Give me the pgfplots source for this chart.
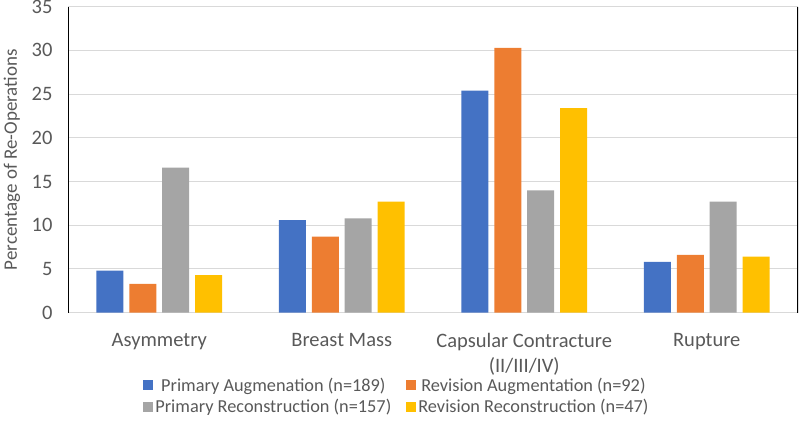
\documentclass[border=0pt]{standalone}
\usepackage{pgfplots}
\pgfplotsset{compat=1.18}
\usepackage{fontspec}
\setmainfont{Carlito}
\definecolor{cblue}{HTML}{4472C4}
\definecolor{corange}{HTML}{ED7D31}
\definecolor{cgray}{HTML}{A5A5A5}
\definecolor{cyellow}{HTML}{FFC000}
\definecolor{ctext}{HTML}{595959}
\definecolor{cgrid}{HTML}{D9D9D9}
\begin{document}
\begin{tikzpicture}[x=1pt,y=1pt]
\useasboundingbox (0,0) rectangle (800,442);
\begin{axis}[
  at={(68pt,129.3pt)}, anchor=south west,
  width=730pt, height=306pt, scale only axis,
  xmin=-0.5, xmax=3.5, ymin=0, ymax=35,
  ytick={0,5,...,35},
  xtick={0,1,2,3},
  xticklabels={Asymmetry,Breast Mass,{Capsular Contracture\\(II/III/IV)},Rupture},
  xticklabel style={align=center, font=\fontsize{20.5}{25}\selectfont, text=ctext, yshift=-17pt},
  yticklabel style={font=\fontsize{20.5}{24}\selectfont, text=ctext, xshift=-12pt},
  /pgf/number format/assume math mode=true,
  major tick length=0pt,
  ymajorgrids, grid style={cgrid, line width=1pt},
  axis line style={draw=none},
  ylabel={Percentage of Re-Operations},
  every axis y label/.style={at={(rel axis cs:0,0.5)}, anchor=center, xshift=-56pt, rotate=90,
    font=\fontsize{19}{23}\selectfont, text=ctext},
  ybar, bar width=27pt,
  legend columns=2,
  legend style={at={(0.103,-0.205)}, anchor=north west, draw=none, fill=none,
    font=\fontsize{18.3}{22}\selectfont, text=ctext,
    /tikz/every even column/.append style={column sep=13pt},
    row sep=3pt, inner sep=0pt},
  legend image code/.code={\fill[#1] (0pt,-5pt) rectangle (10pt,5pt);},
]
\addplot[fill=cblue, draw=none, bar shift=-0.271] coordinates {(0,4.8) (1,10.6) (2,25.4) (3,5.8)};
\addplot[fill=corange, draw=none, bar shift=-0.090] coordinates {(0,3.3) (1,8.7) (2,30.3) (3,6.6)};
\addplot[fill=cgray, draw=none, bar shift=0.090] coordinates {(0,16.6) (1,10.8) (2,14.0) (3,12.7)};
\addplot[fill=cyellow, draw=none, bar shift=0.271] coordinates {(0,4.3) (1,12.7) (2,23.4) (3,6.4)};
\legend{Primary Augmenation (n=189),Revision Augmentation (n=92),Primary Reconstruction (n=157),Revision Reconstruction (n=47)}
\draw[black, line width=1.2pt] (rel axis cs:0,0) -- (rel axis cs:0,1);
\draw[black, line width=1.2pt] (rel axis cs:1,0) -- (rel axis cs:1,1);
\end{axis}
\end{tikzpicture}
\end{document}
